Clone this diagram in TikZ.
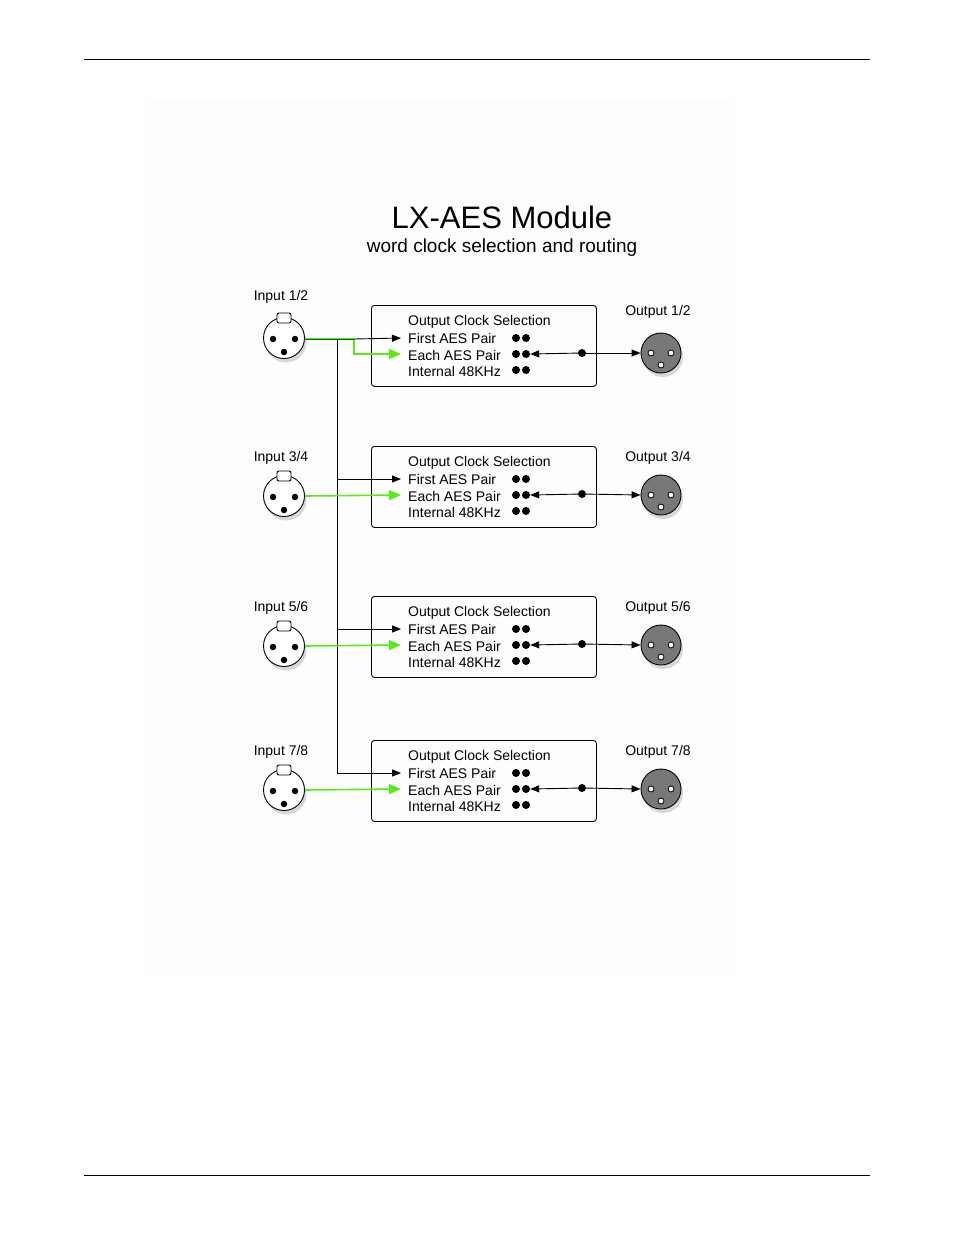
\documentclass[tikz,border=0pt]{standalone}
\usepackage{fontspec}
\setmainfont{Liberation Sans}
\usetikzlibrary{positioning,arrows.meta,shadows}
\definecolor{wirelime}{RGB}{90,235,20}
\definecolor{plugdark}{RGB}{120,120,120}
\definecolor{backdrop}{RGB}{253,253,253}
\tikzset{
  selbox/.style={draw, rounded corners=3pt, line width=0.9pt, minimum width=225pt, minimum height=81pt},
  lbl/.style={font=\fontsize{14}{16}\selectfont, inner sep=0pt},
  plugin/.style={circle, draw, line width=0.9pt, fill=white, minimum size=41pt, inner sep=0pt, drop shadow={opacity=0.3,shadow xshift=2pt,shadow yshift=-4pt}},
  plugout/.style={circle, draw, line width=0.9pt, fill=plugdark, minimum size=40pt, inner sep=0pt, drop shadow={opacity=0.3,shadow xshift=2pt,shadow yshift=-4pt}},
  pin/.style={circle, fill=black, inner sep=0pt, minimum size=8pt},
  hpin/.style={circle, draw, line width=0.8pt, fill=white, inner sep=0pt, minimum size=6pt},
  wire/.style={line width=0.9pt, -{Triangle[length=9pt,width=7pt]}},
  gwire/.style={line width=1.6pt, wirelime, -{Triangle[length=12pt,width=10pt]}}
}
\begin{document}
\begin{tikzpicture}[x=1pt,y=-1pt]
  \useasboundingbox (0,0) rectangle (954,1235);
  % page rules and backdrop
  \fill [backdrop] (145,100) rectangle (735,975);
  \draw [line width=0.6pt] (84,59) -- (870,59);
  \draw [line width=0.6pt] (84,1175) -- (870,1175);

  % Title
  \node (title) at (502,217) {\fontsize{31}{34}\selectfont LX-AES Module};
  \node [lbl, font=\fontsize{19}{21}\selectfont] (subtitle) at (502,248) {word clock selection and routing};

  % Blocks
  \foreach \i/\ty/\iy/\oy/\ily/\oly/\nm in {1/305/338/353/296/311/1\slash 2, 2/446/496/495/457/457/3\slash 4, 3/596/646/645/607/607/5\slash 6, 4/740/790/789/751/751/7\slash 8} {
    \node [selbox, anchor=north west] (box\i) at (371,\ty) {};
    \node [lbl, anchor=west] (head\i) at (408,\ty+17) {Output Clock Selection};
    \node [lbl, anchor=west] (first\i) at (408,\ty+33) {First AES Pair};
    \node [lbl, anchor=west] (each\i) at (408,\ty+50) {Each AES Pair};
    \node [lbl, anchor=west] (int\i) at (408,\ty+66) {Internal 48KHz};
    \foreach \r/\dy in {a/33,b/49,c/65} {
      \node [pin] at (516,\ty+\dy) {};
      \node [pin] (sw\i\r) at (526,\ty+\dy) {};
    }
    % input plug
    \node [plugin] (in\i) at (284,\iy) {};
    \draw [fill=white, line width=0.9pt, rounded corners=2pt] (277,\iy-25) rectangle (291,\iy-15);
    \node [pin, minimum size=6.5pt] at (273,\iy+1) {};
    \node [pin, minimum size=6.5pt] at (295,\iy+1) {};
    \node [pin, minimum size=6.5pt] at (284,\iy+14) {};
    \node [lbl] (inlbl\i) at (281,\ily+1) {Input \nm};
    % output plug
    \node [plugout] (out\i) at (661,\oy) {};
    \node [hpin] at (651,\oy) {};
    \node [hpin] at (671,\oy) {};
    \node [hpin] at (661,\oy+12) {};
    \node [lbl] (outlbl\i) at (658,\oly+1) {Output \nm};
    % routing on the output side
    \node [pin] (tap\i) at (582,\ty+48) {};
    \draw [wire] (tap\i) -- (sw\i b.east);
    \draw [wire] (tap\i) -- (out\i.west);
  }

  % Input wiring
  \coordinate (split) at (354,339);
  \draw [gwire] (in1.east |- 0,339) -- (split) -- (354,354) -- (401,354);
  \draw [wire, green!40!black, -] (in1.east |- 0,339) -- (split);
  \draw [wire] (split) -- (401,338);
  \draw [line width=0.9pt] (337,339) -- (337,773);
  \draw [wire] (337,479) -- (401,479);
  \draw [wire] (337,629) -- (401,629);
  \draw [wire] (337,773) -- (401,773);
  \draw [gwire] (in2.east) -- (401,495);
  \draw [gwire] (in3.east) -- (401,645);
  \draw [gwire] (in4.east) -- (401,789);
\end{tikzpicture}
\end{document}
